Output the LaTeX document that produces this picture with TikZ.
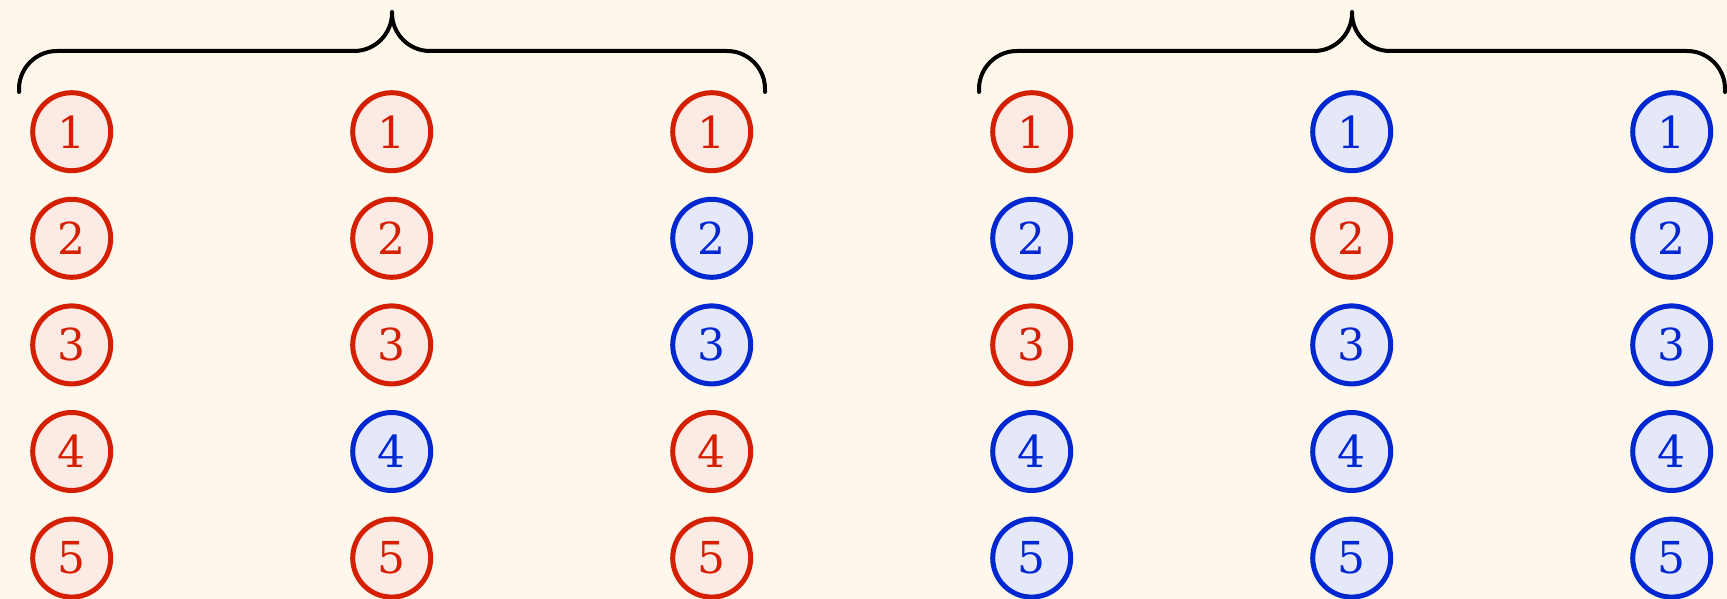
\documentclass[tikz,border=0pt]{standalone}
\usepackage{fontspec}
\setmainfont{DejaVu Serif}
\definecolor{bgcream}{HTML}{FEF8EC}
\definecolor{redline}{HTML}{D42000}
\definecolor{redfill}{HTML}{FCEAE4}
\definecolor{blueline}{HTML}{0028D0}
\definecolor{bluefill}{HTML}{E4E8F8}
\tikzset{
  ball/.style={circle,line width=5pt,minimum size=78pt,inner sep=0pt,font=\fontsize{44}{48}\selectfont},
  Rball/.style={ball,draw=redline,fill=redfill,text=redline},
  Bball/.style={ball,draw=blueline,fill=bluefill,text=blueline},
  grp/.style={line width=4pt,line cap=round,rounded corners=38pt}
}
\begin{document}
\begin{tikzpicture}[x=1pt,y=-1pt]
  \fill[bgcream] (0,0) rectangle (1727,599);
  \useasboundingbox (0,0) rectangle (1727,599);
  \foreach \col/\cols in {1/{R,R,R,R,R},2/{R,R,R,B,R},3/{R,B,B,R,R},4/{R,B,R,B,B},5/{B,R,B,B,B},6/{B,B,B,B,B}}
    \foreach \c [count=\row] in \cols
      \node[\c ball] (n\col\row) at ({71.7+320*(\col-1)},{131.7+106.6*(\row-1)}) {\row};
  \path (19,92) coordinate (L1) (392,51) coordinate (M1) (392,12) coordinate (T1) (765,92) coordinate (R1);
  \path (979,92) coordinate (L2) (1352,51) coordinate (M2) (1352,12) coordinate (T2) (1725,92) coordinate (R2);
  \foreach \b in {1,2}
    \draw[grp] (L\b) |- (M\b) -- (T\b) (T\b) -- (M\b) -| (R\b);
\end{tikzpicture}
\end{document}
